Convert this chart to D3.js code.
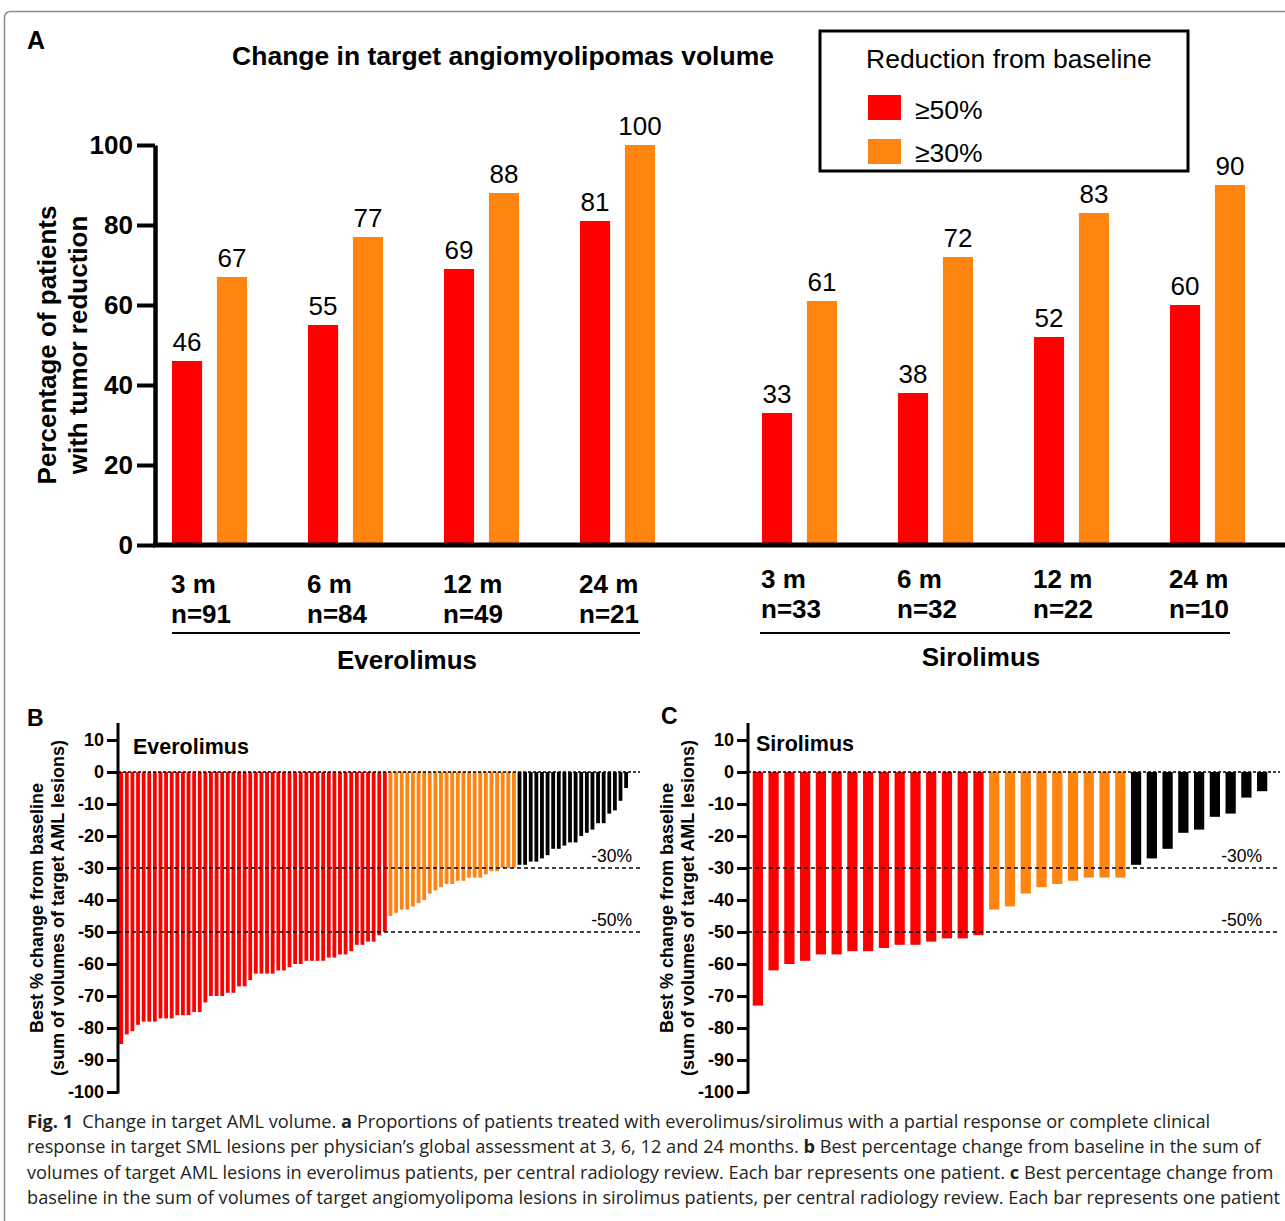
<!DOCTYPE html>
<html><head><meta charset="utf-8">
<script src="https://cdn.jsdelivr.net/npm/d3@7/dist/d3.min.js"></script>
<style>
html,body{margin:0;padding:0;background:#fff;}
svg{display:block;}
text{font-family:"Liberation Sans",Arial,sans-serif;}
</style></head>
<body>
<svg id="fig" width="1285" height="1221"></svg>
<script>
// ---------- DATA ----------
const timepoints = ["3 m", "6 m", "12 m", "24 m"];
const everolimusN = [91, 84, 49, 21];
const sirolimusN = [33, 32, 22, 10];
const everolimus50 = [46, 55, 69, 81];
const everolimus30 = [67, 77, 88, 100];
const sirolimus50 = [33, 38, 52, 60];
const sirolimus30 = [61, 72, 83, 90];
const yTicksA = [0, 20, 40, 60, 80, 100];
const legendLabels = ["\u226550%", "\u226530%"];

const everolimusBest = [
  -85, -82, -81, -79, -78, -78, -78, -77, -77, -77,
  -76, -76, -76, -75, -75, -72, -70, -70, -70, -69,
  -69, -67, -67, -65, -63, -63, -63, -63, -62, -62,
  -61, -60, -60, -59, -59, -59, -59, -58, -58, -57,
  -57, -56, -54, -54, -53, -53, -51, -50,
  -45, -44, -43, -43, -42, -41, -40, -38, -37, -36,
  -35, -35, -34, -34, -33, -33, -33, -32, -31, -31,
  -30, -30, -30,
  -29, -29, -28, -28, -27, -26, -24, -24, -23, -22,
  -22, -20, -19, -18, -16, -16, -13, -12, -9, -5
];
const sirolimusBest = [
  -73, -62, -60, -59, -57, -57, -56, -56, -55, -54,
  -54, -53, -52, -52, -51,
  -43, -42, -38, -36, -35, -34, -33, -33, -33,
  -29, -27, -24, -19, -18, -14, -13, -8, -6
];
const yTicksBC = [10, 0, -10, -20, -30, -40, -50, -60, -70, -80, -90, -100];
const thresholds = [-30, -50];

const RED = "#fe0000", ORANGE = "#ff8410", BLACK = "#000";
const colorFor = v => v <= -50 ? RED : (v <= -30 ? ORANGE : BLACK);
const plainFmt = d => String(d);

const svg = d3.select("#fig");

// figure frame (rounded top-left)
svg.append("path")
  .attr("d", "M4.5,1221 L4.5,18 Q4.5,11.5 11,11.5 L1285,11.5")
  .attr("fill", "none").attr("stroke", "#8a8a8a").attr("stroke-width", 1.5);

// ================= PANEL A =================
const gA = svg.append("g");
gA.append("text").attr("x", 27).attr("y", 49).attr("font-size", 25).attr("font-weight", "bold").text("A");
gA.append("text").attr("x", 503).attr("y", 65).attr("text-anchor", "middle")
  .attr("font-size", 26.5).attr("font-weight", "bold").text("Change in target angiomyolipomas volume");

const yA = d3.scaleLinear().domain([0, 100]).range([545, 145]);
const drugs = [
  {name: "Everolimus", n: everolimusN, v50: everolimus50, v30: everolimus30, range: [141, 685], labY: 0, lineX: [172, 640], nameX: 407, nameY: 669},
  {name: "Sirolimus", n: sirolimusN, v50: sirolimus50, v30: sirolimus30, range: [731, 1275], labY: -5, lineX: [760, 1230], nameX: 981, nameY: 666}
];
const inner = d3.scaleBand().domain(["r", "o"]).range([-37, 38]).paddingInner(0.33);

drugs.forEach(dr => {
  const xb = d3.scaleBand().domain(timepoints).range(dr.range);
  const g = gA.append("g");
  timepoints.forEach((tp, i) => {
    const c = xb(tp) + xb.bandwidth() / 2;
    const vals = [{k: "r", v: dr.v50[i], col: RED}, {k: "o", v: dr.v30[i], col: ORANGE}];
    vals.forEach(d => {
      g.append("rect").attr("x", c + inner(d.k)).attr("width", inner.bandwidth())
        .attr("y", yA(d.v)).attr("height", yA(0) - yA(d.v)).attr("fill", d.col);
      g.append("text").attr("x", c + inner(d.k) + inner.bandwidth() / 2).attr("y", yA(d.v) - 10)
        .attr("text-anchor", "middle").attr("font-size", 26).text(d.v);
    });
    const lx = c + inner("r") - 1;
    g.append("text").attr("x", lx).attr("y", 593 + dr.labY).attr("font-size", 26).attr("font-weight", "bold").text(tp);
    g.append("text").attr("x", lx).attr("y", 623 + dr.labY).attr("font-size", 26).attr("font-weight", "bold").text("n=" + dr.n[i]);
  });
  g.append("line").attr("x1", dr.lineX[0]).attr("x2", dr.lineX[1]).attr("y1", 633).attr("y2", 633)
    .attr("stroke", "#000").attr("stroke-width", 2);
  g.append("text").attr("x", dr.nameX).attr("y", dr.nameY).attr("text-anchor", "middle")
    .attr("font-size", 26).attr("font-weight", "bold").text(dr.name);
});

// axes A
const axA = gA.append("g").attr("transform", "translate(155,0)")
  .call(d3.axisLeft(yA).tickValues(yTicksA).tickFormat(plainFmt).tickSize(18).tickPadding(4).tickSizeOuter(0));
axA.select(".domain").attr("stroke-width", 4.5);
axA.selectAll(".tick line").attr("stroke-width", 4);
axA.selectAll(".tick text").attr("font-size", 26).attr("font-weight", "bold")
  .attr("font-family", "Liberation Sans, Arial, sans-serif").attr("fill", "#000");
gA.append("line").attr("x1", 153).attr("x2", 1285).attr("y1", yA(0)).attr("y2", yA(0))
  .attr("stroke", "#000").attr("stroke-width", 5);

// y label A
gA.append("text").attr("transform", "translate(56,345) rotate(-90)").attr("text-anchor", "middle")
  .attr("font-size", 26).attr("font-weight", "bold").text("Percentage of patients");
gA.append("text").attr("transform", "translate(87,345) rotate(-90)").attr("text-anchor", "middle")
  .attr("font-size", 26).attr("font-weight", "bold").text("with tumor reduction");

// legend
const lg = gA.append("g");
lg.append("rect").attr("x", 820).attr("y", 31).attr("width", 368).attr("height", 140)
  .attr("fill", "none").attr("stroke", "#000").attr("stroke-width", 3);
lg.append("text").attr("x", 866).attr("y", 68).attr("font-size", 26.5).text("Reduction from baseline");
[RED, ORANGE].forEach((col, i) => {
  lg.append("rect").attr("x", 868).attr("y", 95 + i * 44).attr("width", 33).attr("height", 25).attr("fill", col);
  lg.append("text").attr("x", 915).attr("y", 119 + i * 43).attr("font-size", 26.5).text(legendLabels[i]);
});

// ================= PANELS B & C =================
function waterfall(opts) {
  const g = svg.append("g");
  const y = d3.scaleLinear().domain([-100, 10]).range([1092, 740]);
  const x = d3.scaleBand().domain(d3.range(opts.data.length)).range(opts.xr)
    .paddingInner(opts.pi).paddingOuter(opts.po);
  g.append("text").attr("x", opts.letterX).attr("y", opts.letterY).attr("font-size", 23)
    .attr("font-weight", "bold").text(opts.letter);
  g.append("text").attr("x", opts.titleX).attr("y", opts.titleY).attr("font-size", 21.5)
    .attr("font-weight", "bold").text(opts.title);
  // bars
  g.selectAll("rect.bar").data(opts.data).enter().append("rect")
    .attr("x", (d, i) => x(i)).attr("width", x.bandwidth())
    .attr("y", y(0)).attr("height", d => y(d) - y(0)).attr("fill", d => colorFor(d));
  // zero line & thresholds
  g.append("line").attr("x1", opts.ax).attr("x2", opts.lineEnd).attr("y1", y(0)).attr("y2", y(0))
    .attr("stroke", "#000").attr("stroke-width", 1.3).attr("stroke-dasharray", "3,2");
  thresholds.forEach(t => {
    g.append("line").attr("x1", opts.ax).attr("x2", opts.lineEnd).attr("y1", y(t)).attr("y2", y(t))
      .attr("stroke", "#000").attr("stroke-width", 1.3).attr("stroke-dasharray", "4,3");
    g.append("text").attr("x", opts.pctX).attr("y", y(t) - 6).attr("text-anchor", "end")
      .attr("font-size", 17.5).text(t + "%");
  });
  // axis
  const ax = g.append("g").attr("transform", `translate(${opts.ax},0)`)
    .call(d3.axisLeft(y).tickValues(yTicksBC).tickFormat(plainFmt).tickSize(11).tickPadding(3).tickSizeOuter(0));
  ax.select(".domain").remove();
  ax.selectAll(".tick line").attr("stroke-width", 3);
  ax.selectAll(".tick text").attr("font-size", 18).attr("font-weight", "bold")
    .attr("font-family", "Liberation Sans, Arial, sans-serif").attr("fill", "#000");
  g.append("line").attr("x1", opts.ax).attr("x2", opts.ax).attr("y1", y(-100) + 1.5).attr("y2", y(10) - 17)
    .attr("stroke", "#000").attr("stroke-width", 3);
  // y label
  g.append("text").attr("transform", `translate(${opts.ylx1},908) rotate(-90)`).attr("text-anchor", "middle")
    .attr("font-size", 18).attr("font-weight", "bold").text("Best % change from baseline");
  g.append("text").attr("transform", `translate(${opts.ylx1 + 21},908) rotate(-90)`).attr("text-anchor", "middle")
    .attr("font-size", 18).attr("font-weight", "bold").text("(sum of volumes of target AML lesions)");
}

waterfall({data: everolimusBest, xr: [118, 629.3], pi: 0.32, po: 0.23, ax: 118, lineEnd: 640,
  letter: "B", letterX: 27, letterY: 726, title: "Everolimus", titleX: 133, titleY: 754, pctX: 632,
  ylx1: 43});
waterfall({data: sirolimusBest, xr: [748, 1272], pi: 0.35, po: 0.3, ax: 748, lineEnd: 1280,
  letter: "C", letterX: 661, letterY: 724, title: "Sirolimus", titleX: 756, titleY: 751, pctX: 1262,
  ylx1: 673});

// ================= CAPTION =================
const captionLines = [
  [["Fig. 1", true], ["\u2002Change in target AML volume. ", false], ["a", true], [" Proportions of patients treated with everolimus/sirolimus with a partial response or complete clinical", false]],
  [["response in target SML lesions per physician\u2019s global assessment at 3, 6, 12 and 24 months. ", false], ["b", true], [" Best percentage change from baseline in the sum of", false]],
  [["volumes of target AML lesions in everolimus patients, per central radiology review. Each bar represents one patient. ", false], ["c", true], [" Best percentage change from", false]],
  [["baseline in the sum of volumes of target angiomyolipoma lesions in sirolimus patients, per central radiology review. Each bar represents one patient", false]]
];
const cap = svg.append("g");
captionLines.forEach((line, i) => {
  const t = cap.append("text").attr("x", 27).attr("y", 1128 + i * 25.3)
    .attr("font-size", 18.2).attr("fill", "#231f20")
    .style("font-family", "'Open Sans', sans-serif");
  line.forEach(([s, b]) => t.append("tspan").attr("font-weight", b ? "bold" : "normal").text(s));
});
</script>
</body></html>
